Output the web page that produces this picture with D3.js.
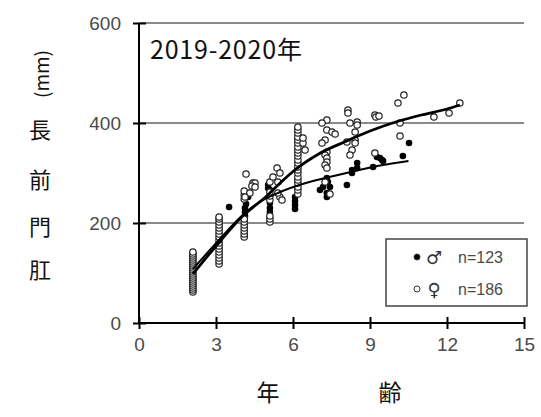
<!DOCTYPE html>
<html>
<head>
<meta charset="utf-8">
<script src="https://cdn.jsdelivr.net/npm/d3@7"></script>
<style>
  body { margin: 0; background: #fff; }
  svg { display: block; }
</style>
</head>
<body>
<div id="chart"></div>
<script>
// tick values
const xTicks = [0, 3, 6, 9, 12, 15];
const yTicks = [0, 200, 400, 600];
const gridValues = [200, 400, 600];

// female (open circles): [age, anal length mm]
const femalePoints = [
  [2.1, 62], [2.1, 66], [2.1, 70], [2.1, 74], [2.1, 78], [2.1, 82], [2.1, 86], [2.1, 90],
  [2.1, 94], [2.1, 98], [2.1, 102], [2.1, 106], [2.1, 110], [2.1, 114], [2.1, 118],
  [2.1, 122], [2.1, 126], [2.1, 130], [2.1, 134], [2.1, 138], [2.1, 142],
  [3.12, 118], [3.12, 124], [3.12, 130], [3.12, 136], [3.12, 142], [3.12, 148], [3.12, 154],
  [3.12, 160], [3.12, 166], [3.12, 172], [3.12, 178], [3.12, 184], [3.12, 190], [3.12, 196],
  [3.12, 202], [3.12, 208], [3.12, 212],
  [4.1, 172], [4.1, 178], [4.1, 184], [4.1, 190], [4.1, 196], [4.1, 202], [4.1, 208],
  [4.1, 248], [4.1, 256], [4.1, 264], [4.17, 298], [4.44, 280], [4.52, 280], [4.4, 274],
  [4.52, 272], [4.32, 260], [4.13, 252],
  [5.1, 202], [5.1, 208], [5.1, 214], [5.1, 246], [5.1, 254], [5.1, 262], [5.1, 282],
  [5.38, 310], [5.49, 300], [5.22, 292], [5.41, 282], [5.49, 252], [5.57, 246], [5.41, 260],
  [6.19, 258], [6.19, 266], [6.19, 272], [6.19, 280], [6.19, 286], [6.19, 292], [6.19, 300],
  [6.19, 306], [6.19, 312], [6.19, 320], [6.19, 326], [6.19, 334], [6.19, 340], [6.19, 346],
  [6.19, 352], [6.19, 360], [6.19, 366], [6.19, 372], [6.19, 380], [6.19, 386], [6.19, 392],
  [6.39, 360], [6.39, 370], [6.47, 346],
  [7.32, 406], [7.13, 400], [7.32, 386], [7.52, 382], [7.64, 378], [7.25, 366], [7.13, 360],
  [7.32, 342], [7.25, 336], [7.32, 330], [7.32, 322], [7.25, 316], [7.32, 310], [7.25, 282],
  [7.44, 258],
  [8.14, 426], [8.14, 420], [8.22, 400], [8.5, 402], [8.5, 396], [8.42, 382], [8.42, 366],
  [8.42, 360], [8.1, 362], [8.3, 346], [8.22, 336],
  [9.19, 416], [9.23, 412], [9.35, 414], [9.19, 340],
  [10.17, 400], [10.17, 374], [10.09, 440], [10.32, 456],
  [11.49, 412], [12.08, 420], [12.5, 440]
];

// male (filled circles): [age, anal length mm]
const malePoints = [
  [2.1, 72], [2.1, 88], [3.12, 150], [3.12, 170],
  [3.51, 232],
  [4.13, 214], [4.13, 222], [4.13, 230], [4.17, 238], [4.25, 252], [4.25, 260],
  [5.1, 222], [5.1, 230], [5.1, 240], [5.03, 270], [5.03, 276], [5.1, 266],
  [6.08, 228], [6.08, 236], [6.08, 244], [6.08, 252],
  [7.05, 266], [7.32, 260], [7.32, 252], [7.36, 282], [7.44, 272], [7.32, 290], [7.17, 272],
  [8.1, 276], [8.3, 306], [8.3, 300], [8.5, 320], [8.5, 310],
  [9.12, 312], [9.27, 332], [9.39, 330], [9.51, 324], [9.47, 326],
  [10.28, 334], [10.52, 360]
];

// fitted growth curves
const femaleCurve = [
  [2.1, 98], [3.1, 160], [4.0, 212], [5.0, 255], [5.5, 280], [6.0, 303], [7.0, 338],
  [8.0, 362], [9.0, 384], [10.0, 402], [11.0, 416], [12.0, 428], [12.5, 436]
];
const maleCurve = [
  [2.1, 108], [3.1, 165], [4.0, 214], [4.7, 242], [5.5, 262], [6.5, 280], [7.5, 293],
  [8.5, 305], [9.5, 316], [10.5, 324]
];

const legendItems = [
  { sex: "♂", label: "n=123", filled: true },
  { sex: "♀", label: "n=186", filled: false }
];

const W = 541, H = 417;
const margin = { top: 23, right: 17, bottom: 94, left: 139 };
const width = W - margin.left - margin.right;
const height = H - margin.top - margin.bottom;

const svg = d3.select("#chart").append("svg")
  .attr("width", W)
  .attr("height", H);

const g = svg.append("g")
  .attr("transform", `translate(${margin.left},${margin.top})`);

const x = d3.scaleLinear().domain([0, 15]).range([0, width]);
const y = d3.scaleLinear().domain([0, 600]).range([height, 0]);

// grid lines
g.selectAll(".grid")
  .data(gridValues)
  .enter()
  .append("line")
  .attr("x1", 0)
  .attr("x2", width)
  .attr("y1", d => y(d))
  .attr("y2", d => y(d))
  .attr("stroke", "#8a8a8a")
  .attr("stroke-width", 2);

// y axis
const yAxis = g.append("g")
  .call(d3.axisLeft(y).tickValues(yTicks).tickSizeInner(6).tickSizeOuter(0).tickPadding(12));
yAxis.select(".domain").remove();
yAxis.selectAll(".tick line").attr("x1", -6).attr("x2", 7).attr("stroke", "#000").attr("stroke-width", 2);
yAxis.selectAll(".tick text")
  .attr("font-family", "'Liberation Sans', Arial, sans-serif")
  .attr("font-size", 19)
  .attr("fill", "#4a4a4a");
g.append("line")
  .attr("x1", 0).attr("x2", 0)
  .attr("y1", 0).attr("y2", height)
  .attr("stroke", "#000").attr("stroke-width", 2);

// x axis
const xAxis = g.append("g")
  .attr("transform", `translate(0,${height})`)
  .call(d3.axisBottom(x).tickValues(xTicks).tickSizeInner(6).tickSizeOuter(0).tickPadding(9));
xAxis.select(".domain").remove();
xAxis.selectAll(".tick line").attr("y1", -6).attr("y2", 6).attr("stroke", "#000").attr("stroke-width", 2);
xAxis.selectAll(".tick text")
  .attr("font-family", "'Liberation Sans', Arial, sans-serif")
  .attr("font-size", 19)
  .attr("fill", "#4a4a4a");
g.append("line")
  .attr("x1", 0).attr("x2", width)
  .attr("y1", height).attr("y2", height)
  .attr("stroke", "#000").attr("stroke-width", 2);

// points: males underneath, females on top
g.selectAll(".male")
  .data(malePoints)
  .enter()
  .append("circle")
  .attr("cx", d => x(d[0]))
  .attr("cy", d => y(d[1]))
  .attr("r", 3.3)
  .attr("fill", "#000");

g.selectAll(".female")
  .data(femalePoints)
  .enter()
  .append("circle")
  .attr("cx", d => x(d[0]))
  .attr("cy", d => y(d[1]))
  .attr("r", 3.2)
  .attr("fill", "#fff")
  .attr("stroke", "#222")
  .attr("stroke-width", 1.2);

// growth curves
const line = d3.line()
  .x(d => x(d[0]))
  .y(d => y(d[1]))
  .curve(d3.curveMonotoneX);

g.append("path")
  .datum(maleCurve)
  .attr("d", line)
  .attr("fill", "none")
  .attr("stroke", "#000")
  .attr("stroke-width", 2);

g.append("path")
  .datum(femaleCurve)
  .attr("d", line)
  .attr("fill", "none")
  .attr("stroke", "#000")
  .attr("stroke-width", 2.8);

// period label
svg.append("text")
  .attr("x", 150)
  .attr("y", 59)
  .attr("font-family", "'Noto Sans CJK JP', sans-serif")
  .attr("font-size", 25)
  .attr("letter-spacing", 0.8)
  .attr("fill", "#111")
  .text("2019-2020年");

// axis titles
svg.append("text")
  .attr("x", 268).attr("y", 391)
  .attr("text-anchor", "middle")
  .attr("dominant-baseline", "central")
  .attr("font-family", "'Noto Sans CJK JP', sans-serif")
  .attr("font-size", 23)
  .attr("fill", "#111")
  .text("年");
svg.append("text")
  .attr("x", 390).attr("y", 391)
  .attr("text-anchor", "middle")
  .attr("dominant-baseline", "central")
  .attr("font-family", "'Noto Sans CJK JP', sans-serif")
  .attr("font-size", 23)
  .attr("fill", "#111")
  .text("齢");

const yTitleChars = [
  { ch: "肛", cy: 268 },
  { ch: "門", cy: 225 },
  { ch: "前", cy: 178 },
  { ch: "長", cy: 128 }
];
svg.selectAll(".ytitle")
  .data(yTitleChars)
  .enter()
  .append("text")
  .attr("x", 40)
  .attr("y", d => d.cy)
  .attr("text-anchor", "middle")
  .attr("dominant-baseline", "central")
  .attr("font-family", "'Noto Sans CJK JP', sans-serif")
  .attr("font-size", 22)
  .attr("fill", "#111")
  .text(d => d.ch);
svg.append("text")
  .attr("transform", "translate(40,74) rotate(-90)")
  .attr("text-anchor", "middle")
  .attr("dominant-baseline", "central")
  .attr("font-family", "'Noto Sans CJK JP', sans-serif")
  .attr("font-size", 19)
  .attr("fill", "#111")
  .text("(mm)");

// legend
const legend = svg.append("g");
legend.append("rect")
  .attr("x", 386).attr("y", 239)
  .attr("width", 141).attr("height", 67)
  .attr("fill", "#fff")
  .attr("stroke", "#444")
  .attr("stroke-width", 1.5);

const rows = legend.selectAll(".row")
  .data(legendItems)
  .enter()
  .append("g")
  .attr("transform", (d, i) => `translate(0,${257 + i * 32})`);
rows.append("circle")
  .attr("cx", 417).attr("cy", 0)
  .attr("r", 3)
  .attr("fill", d => d.filled ? "#000" : "#fff")
  .attr("stroke", "#333")
  .attr("stroke-width", 1);
rows.append("text")
  .attr("x", 434).attr("y", 0)
  .attr("text-anchor", "middle")
  .attr("dominant-baseline", "central")
  .attr("font-family", "'DejaVu Sans', sans-serif")
  .attr("font-size", 18)
  .attr("fill", "#333")
  .text(d => d.sex);
rows.append("text")
  .attr("x", 458).attr("y", 0)
  .attr("dominant-baseline", "central")
  .attr("font-family", "'Liberation Sans', Arial, sans-serif")
  .attr("font-size", 16)
  .attr("fill", "#4a4a4a")
  .text(d => d.label);
</script>
</body>
</html>
